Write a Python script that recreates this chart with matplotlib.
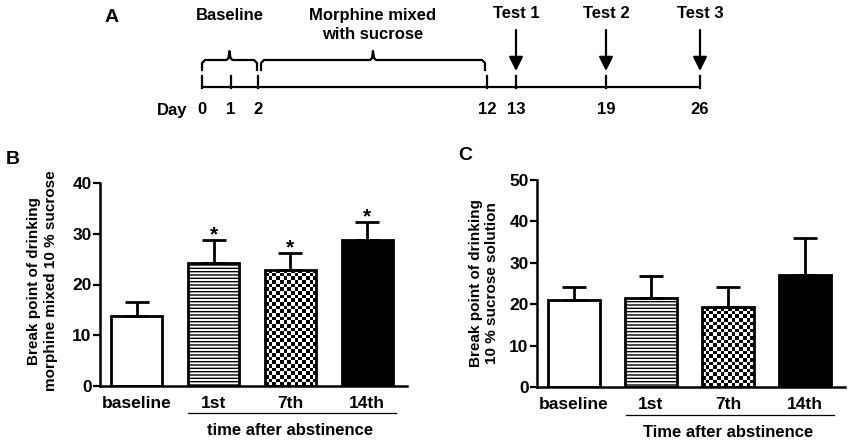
import matplotlib
matplotlib.use("Agg")
import matplotlib.pyplot as plt
import matplotlib.transforms as mtransforms
import numpy as np

plt.rcParams['font.family'] = ['Liberation Sans', 'DejaVu Sans']
plt.rcParams['font.weight'] = 'bold'
plt.rcParams['hatch.linewidth'] = 1.0
plt.rcParams['hatch.color'] = 'black'

# ---- data ----
groups = ['baseline', '1st', '7th', '14th']

b_mean = [13.7, 24.2, 22.9, 28.8]
b_err = [2.8, 4.6, 3.4, 3.6]
b_sig = [False, True, True, True]

c_mean = [20.9, 21.6, 19.3, 27.1]
c_err = [3.2, 5.2, 4.8, 8.8]

# timeline (panel A) - schematic, days not drawn to scale
days = [0, 1, 2, 12, 13, 19, 26]
day_pos = [202, 231, 258, 487, 516, 606, 700]
tests = [(13, 'Test 1'), (19, 'Test 2'), (26, 'Test 3')]

W, H = 850, 441
fig = plt.figure(figsize=(W / 100, H / 100), dpi=100)


def px_axes(left, right, y0, ytop):
    return fig.add_axes([left / W, 1 - y0 / H, (right - left) / W, (y0 - ytop) / H])


# ---- panel A ----
ax_a = fig.add_axes([0, 1 - 125 / H, 1, 125 / H])
ax_a.set_xlim(0, W)
ax_a.set_ylim(125, 0)
ax_a.axis('off')

pos = dict(zip(days, day_pos))
ax_a.plot([pos[0], pos[26]], [87, 87], color='black', lw=1.6, solid_capstyle='butt')
for d in days:
    ax_a.plot([pos[d], pos[d]], [76, 88], color='black', lw=1.6)
    ax_a.text(pos[d], 110, str(d), ha='center', va='center', fontsize=12)
ax_a.text(172, 110, 'Day', ha='center', va='center', fontsize=12)


def brace(x0, x1):
    c = (x0 + x1) / 2
    xs = [x0, x0, x0 + 3, c - 3, c - 1, c, c + 1, c + 3, x1 - 3, x1, x1]
    ys = [70, 63, 60, 60, 58, 51, 58, 60, 60, 63, 70]
    ax_a.plot(xs, ys, color='black', lw=1.6, solid_joinstyle='round')
    return c


cb = brace(pos[0], pos[2] - 1)
cm = brace(pos[2] + 3, pos[12] - 2)
ax_a.text(cb, 15, 'Baseline', ha='center', va='center', fontsize=12)
ax_a.text(cm, 25, 'Morphine mixed\nwith sucrose', ha='center', va='center',
          fontsize=12, linespacing=1.35)

for d, lab in tests:
    ax_a.annotate('', xy=(pos[d], 71), xytext=(pos[d], 30),
                  arrowprops=dict(arrowstyle='-|>,head_length=0.6,head_width=0.3',
                                  lw=1.6, color='black', mutation_scale=14,
                                  shrinkA=0, shrinkB=0))
    ax_a.text(pos[d], 13, lab, ha='center', va='center', fontsize=12)

ax_a.text(112, 17, 'A', ha='center', va='center', fontsize=14)


# ---- bar panels ----
def checker_fill(ax, bar, cell_px=3.6):
    x0, y0 = bar.get_x(), bar.get_y()
    w, h = bar.get_width(), bar.get_height()
    p0 = ax.transData.transform((x0, y0))
    p1 = ax.transData.transform((x0 + w, y0 + h))
    ncol = max(1, int(round((p1[0] - p0[0]) / cell_px)))
    nrow = max(1, int(round((p1[1] - p0[1]) / cell_px)))
    grid = np.add.outer(np.arange(nrow), np.arange(ncol)) % 2
    im = ax.imshow(grid, cmap='gray', extent=(x0, x0 + w, y0, y0 + h), origin='lower',
                   aspect='auto', interpolation='nearest', zorder=1)
    im.set_clip_path(bar)


def bar_panel(ax, means, errs, ymax, xlabel, ylim_pad):
    x = np.arange(len(groups))
    ax.set_xlim(-0.48, 3.52)
    ax.set_ylim(0, ymax)
    faces = ['white', 'white', 'none', 'black']
    bars = ax.bar(x, means, width=0.665, color=faces, edgecolor='black',
                  linewidth=2, zorder=2)
    bars[1].set_hatch('-----')
    checker_fill(ax, bars[2])
    ax.set_xlim(-0.48, 3.52)
    ax.set_ylim(0, ymax)
    ax.errorbar(x, means, yerr=[np.zeros(len(errs)), errs], fmt='none', ecolor='black',
                elinewidth=2, capsize=8.5, capthick=2, zorder=3)

    for s in ['top', 'right']:
        ax.spines[s].set_visible(False)
    for s in ['left', 'bottom']:
        ax.spines[s].set_linewidth(1.8)
    ax.set_yticks(np.arange(0, ymax + 1, 10))
    ax.tick_params(axis='y', length=5, width=1.6, labelsize=12.5, pad=1)
    ax.set_xticks(x)
    ax.set_xticklabels(groups)
    ax.tick_params(axis='x', length=0, labelsize=12.5, pad=7)

    trans = mtransforms.blended_transform_factory(ax.transData, ax.transAxes)
    ax.plot([0.67, 3.38], [ylim_pad, ylim_pad], transform=trans, clip_on=False,
            color='black', lw=0.9)
    ax.text(2.0, ylim_pad - 0.085, xlabel, transform=trans, ha='center', va='center',
            fontsize=12)
    return x


ax_b = px_axes(100, 407, 386, 183)
xb = bar_panel(ax_b, b_mean, b_err, 40, 'time after abstinence', -0.135)
for xi, m, e, s in zip(xb, b_mean, b_err, b_sig):
    if s:
        ax_b.text(xi, m + e - 0.2, '*', ha='center', va='baseline', fontsize=15)

ax_c = px_axes(537, 845, 387, 180)
bar_panel(ax_c, c_mean, c_err, 50, 'Time after abstinence', -0.135)

fig.text(42.5 / W, 1 - 281 / H, 'Break point of drinking\nmorphine mixed 10 % sucrose',
         rotation=90, ha='center', va='center', fontsize=11, linespacing=1.2)
fig.text(484 / W, 1 - 283 / H, 'Break point of drinking\n10 % sucrose solution',
         rotation=90, ha='center', va='center', fontsize=11, linespacing=1.2)

fig.text(13 / W, 1 - 160 / H, 'B', ha='center', va='center', fontsize=14)
fig.text(465 / W, 1 - 155 / H, 'C', ha='center', va='center', fontsize=14)

fig.savefig('out.png', dpi=100)
